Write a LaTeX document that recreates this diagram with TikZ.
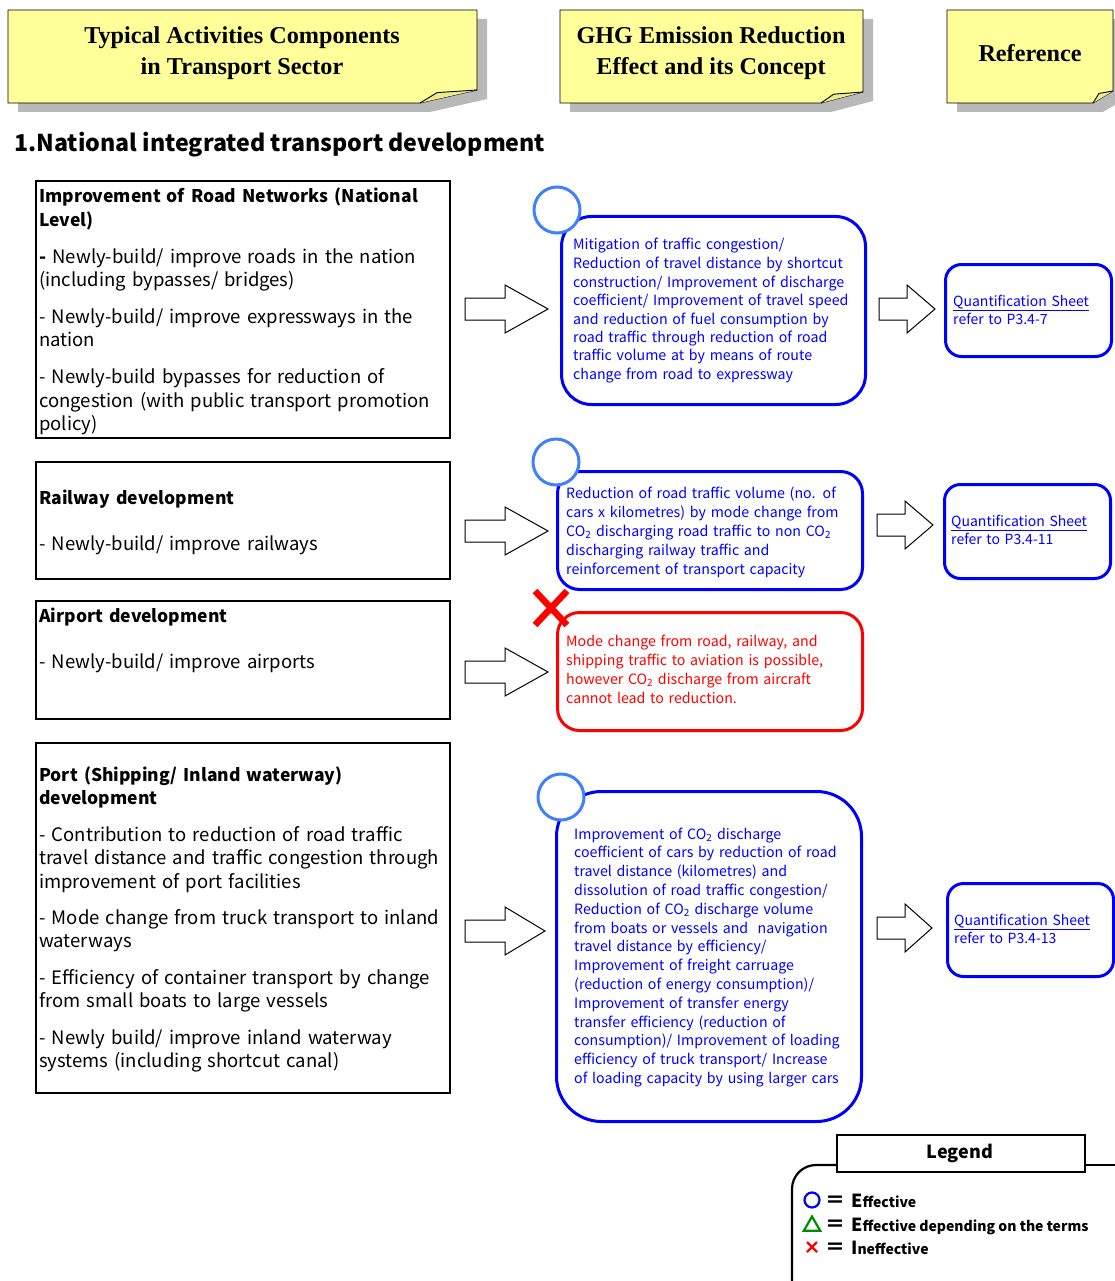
\documentclass[tikz,border=0pt]{standalone}
\usepackage{fontspec}
\setmainfont{Noto Sans CJK JP}
\newfontfamily\serifb{Liberation Serif}
\usetikzlibrary{shapes.geometric}
\definecolor{noteyellow}{RGB}{255,255,153}
\definecolor{foldyellow}{RGB}{235,235,140}
\definecolor{circblue}{RGB}{64,128,255}
\definecolor{effblue}{RGB}{0,0,255}
\definecolor{effred}{RGB}{255,0,0}
\definecolor{effgreen}{RGB}{0,140,0}
\newcommand\notebox[6]{% x0 y0 x1 y1 foldw foldh
  \fill[gray!55] ({#1+10},{#2+9}) -- ({#3+10},{#2+9}) -- ({#3+10},{#4-#6+9}) -- ({#3-#5+10},{#4+9}) -- ({#1+10},{#4+9}) -- cycle;
  \draw[fill=noteyellow, line width=0.9] (#1,#2) -- (#3,#2) -- (#3,{#4-#6}) -- ({#3-#5},#4) -- (#1,#4) -- cycle;
  \draw[fill=foldyellow, line width=0.9] ({#3-#5},#4) -- ({#3-0.7*#5},{#4-0.8*#6}) -- (#3,{#4-#6});
}
\newcommand\blockarr[4]{% x0 xhead x1 yc
  \draw[blockarrow] (#1,{#4-11}) -- (#2,{#4-11}) -- (#2,{#4-24}) -- (#3,#4) -- (#2,{#4+24}) -- (#2,{#4+11}) -- (#1,{#4+11}) -- cycle;
}
\newcommand\hd[1]{{\fontsize{17.5}{23.4}\selectfont\bfseries #1}}
\begin{document}
\begin{tikzpicture}[x=1pt,y=-1pt,
  lbox/.style={draw=black, line width=2, anchor=north west, inner sep=0},
  ltext/.style={anchor=base west, inner sep=0, text width=440, align=left, font=\fontsize{18.5}{23.4}\selectfont},
  effbox/.style={draw=effblue, line width=3, anchor=north west, inner sep=0},
  redbox/.style={draw=effred, line width=3, anchor=north west, inner sep=0},
  bluetext/.style={anchor=base west, inner sep=0, text width=320, align=left, text=effblue, font=\fontsize{14.2}{18.5}\selectfont},
  circ/.style={circle, draw=circblue, line width=3, fill=white, minimum size=46, inner sep=0},
  blockarrow/.style={draw=black, line width=1, fill=white},
  hdrtext/.style={align=center, inner sep=0, font=\serifb\bfseries\fontsize{24.2}{31}\selectfont},
  legtext/.style={anchor=base west, inner sep=0, font=\bfseries\fontsize{14}{18}\selectfont},
]
\useasboundingbox (0,0) rectangle (1115,1281);

% headers
\notebox{8}{10}{477}{103}{57}{13}
\notebox{560}{10}{863}{103}{42}{11}
\notebox{947}{10}{1113}{103}{20}{12}
\node[hdrtext] (h1) at (242,53) {Typical Activities Components\\in Transport Sector};
\node[hdrtext] (h2) at (711,53) {GHG Emission Reduction\\Effect and its Concept};
\node[hdrtext] (h3) at (1030,53) {Reference};

% title
\node[anchor=base west, inner sep=0, font=\bfseries\fontsize{23.2}{30}\selectfont] (title) at (14,152) {1.National integrated transport development};

% left boxes
\node[lbox, minimum width=414, minimum height=257] (road) at (35,180) {};
\node[lbox, minimum width=414, minimum height=117] (rail) at (35,461) {};
\node[lbox, minimum width=414, minimum height=118] (air) at (35,600) {};
\node[lbox, minimum width=414, minimum height=350] (port) at (35,742) {};

\node[ltext] (roadtxt) at (39,203) {\hd{Improvement of Road Networks (National}\\\hd{Level)}\\[13.5pt]
\textbf{-} Newly-build/ improve roads in the nation\\(including bypasses/ bridges)\\[13.5pt]
- Newly-build/ improve expressways in the\\nation\\[13.5pt]
- Newly-build bypasses for reduction of\\congestion (with public transport promotion\\policy)};
\node[ltext] (railtxt) at (39,504) {\hd{Railway development}\\[22.6pt]- Newly-build/ improve railways};
\node[ltext] (airtxt) at (39,622) {\hd{Airport development}\\[22.6pt]- Newly-build/ improve airports};
\node[ltext] (porttxt) at (39,781) {\hd{Port (Shipping/ Inland waterway)}\\\hd{development}\\[13.5pt]
- Contribution to reduction of road traffic\\travel distance and traffic congestion through\\improvement of port facilities\\[13pt]
- Mode change from truck transport to inland\\waterways\\[13pt]
- Efficiency of container transport by change\\from small boats to large vessels\\[13pt]
- Newly build/ improve inland waterway\\systems (including shortcut canal)};

% effect boxes
\node[effbox, rounded corners=30, minimum width=304, minimum height=188] (e1) at (560,215) {};
\node[effbox, rounded corners=22, minimum width=305, minimum height=118] (e2) at (556,470) {};
\node[redbox, rounded corners=22, minimum width=305, minimum height=118] (e3) at (556,611) {};
\node[effbox, rounded corners=45, minimum width=305, minimum height=330] (e4) at (555,790) {};

\node[circ] (c1) at (557,210) {};
\node[circ] (c2) at (556,462) {};
\node[circ] (c4) at (561,797) {};
\draw[effred, line width=6.5] (535,591) -- (567,625) (567,591) -- (535,625);
\node[inner sep=0, minimum size=32] (x3) at (551,608) {};

\node[bluetext] (e1txt) at (573,250) {Mitigation of traffic congestion/\\
Reduction of travel distance by shortcut\\
construction/ Improvement of discharge\\
coefficient/ Improvement of travel speed\\
and reduction of fuel consumption by\\
road traffic through reduction of road\\
traffic volume at by means of route\\
change from road to expressway};
\node[bluetext, font=\fontsize{14.2}{19.2}\selectfont] (e2txt) at (566,498) {Reduction of road traffic volume (no. of\\
cars x kilometres) by mode change from\\
CO\textsubscript{2} discharging road traffic to non CO\textsubscript{2}\\
discharging railway traffic and\\
reinforcement of transport capacity};
\node[bluetext, text=effred, font=\fontsize{14.2}{19.3}\selectfont] (e3txt) at (566,646) {Mode change from road, railway, and\\
shipping traffic to aviation is possible,\\
however CO\textsubscript{2} discharge from aircraft\\
cannot lead to reduction.};
\node[bluetext, font=\fontsize{14.2}{18.8}\selectfont] (e4txt) at (574,839) {Improvement of CO\textsubscript{2} discharge\\
coefficient of cars by reduction of road\\
travel distance (kilometres) and\\
dissolution of road traffic congestion/\\
Reduction of CO\textsubscript{2} discharge volume\\
from boats or vessels and\ \ navigation\\
travel distance by efficiency/\\
Improvement of freight carruage\\
(reduction of energy consumption)/\\
Improvement of transfer energy\\
transfer efficiency (reduction of\\
consumption)/ Improvement of loading\\
efficiency of truck transport/ Increase\\
of loading capacity by using larger cars};

% reference boxes
\node[effbox, rounded corners=16, minimum width=166, minimum height=92] (q1) at (944,263) {};
\node[effbox, rounded corners=16, minimum width=166, minimum height=94] (q2) at (943,483) {};
\node[effbox, rounded corners=16, minimum width=166, minimum height=93] (q3) at (946,882) {};
\node[bluetext, text width=160, font=\fontsize{14}{18.5}\selectfont] (q1txt) at (953,306) {\underline{Quantification Sheet}\\refer to P3.4-7};
\node[bluetext, text width=160, font=\fontsize{14}{18.5}\selectfont] (q2txt) at (951,526) {\underline{Quantification Sheet}\\refer to P3.4-11};
\node[bluetext, text width=160, font=\fontsize{14}{18.5}\selectfont] (q3txt) at (954,925) {\underline{Quantification Sheet}\\refer to P3.4-13};

% block arrows
\blockarr{465}{505}{548}{309}
\blockarr{879}{907}{935}{309}
\blockarr{465}{505}{548}{531}
\blockarr{877}{905}{933}{525}
\blockarr{465}{505}{548}{672}
\blockarr{465}{505}{545}{931}
\blockarr{877}{905}{932}{928}

% legend
\draw[line width=2.2, rounded corners=24] (836,1165) -- (792,1165) -- (792,1300);
\draw[line width=2.2] (1084,1165) -- (1120,1165);
\node[draw, line width=2, fill=white, minimum width=248, minimum height=37, anchor=north west, inner sep=0] (legend) at (836,1134) {};
\node[font=\bfseries\fontsize{18}{20}\selectfont, inner sep=0] (legendtxt) at (960,1153) {Legend};
\node[circle, draw=effblue, line width=2.2, minimum size=15, inner sep=0] (lg1) at (812,1200) {};
\node[regular polygon, regular polygon sides=3, draw=effgreen, line width=2.2, minimum size=19, inner sep=0] (lg2) at (812,1226) {};
\draw[effred, line width=2.2] (807,1242) -- (817,1252) (817,1242) -- (807,1252);
\node[coordinate] (lg3) at (812,1247) {};
\node[legtext] (eq1) at (825,1207) {\fontsize{20}{20}\selectfont ＝};
\node[legtext] (eq2) at (825,1231) {\fontsize{20}{20}\selectfont ＝};
\node[legtext] (eq3) at (825,1254) {\fontsize{20}{20}\selectfont ＝};
\node[legtext] (lt1) at (851,1207) {{\fontsize{18}{18}\selectfont E}ffective};
\node[legtext] (lt2) at (851,1231) {{\fontsize{18}{18}\selectfont E}ffective depending on the terms};
\node[legtext] (lt3) at (851,1254) {{\fontsize{18}{18}\selectfont I}neffective};
\end{tikzpicture}
\end{document}
